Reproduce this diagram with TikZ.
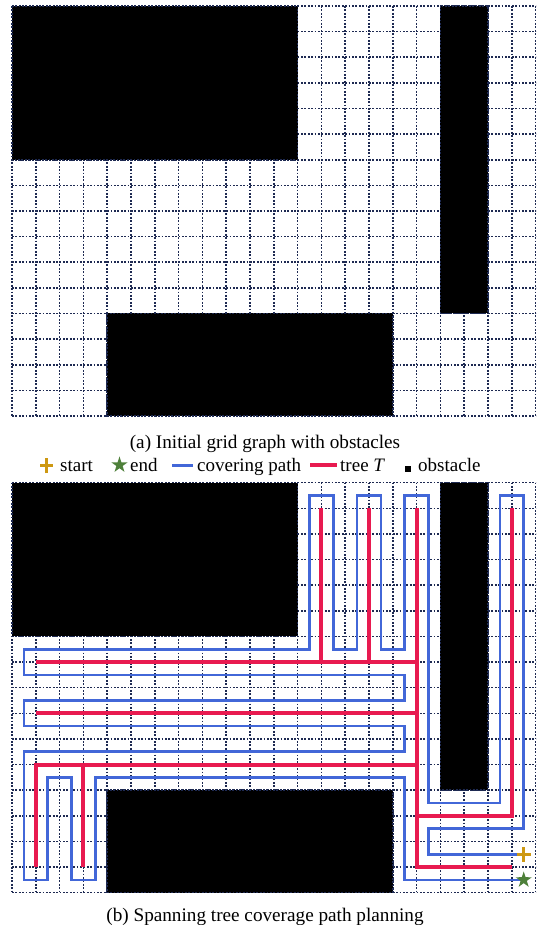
\documentclass[tikz,border=0pt]{standalone}
\usepackage{fontspec}
\setmainfont{Liberation Serif}
\usetikzlibrary{shapes.geometric}
\definecolor{gridnavy}{RGB}{30,42,82}
\definecolor{pathblue}{RGB}{66,103,216}
\definecolor{treered}{RGB}{232,26,80}
\definecolor{startgold}{RGB}{205,152,18}
\definecolor{endgreen}{RGB}{78,128,58}
\tikzset{
	gridline/.style={gridnavy, line width=1.6pt, dash pattern=on 1.8pt off 1.6pt},
	obstacle/.style={fill=black},
	covpath/.style={pathblue, line width=2.6pt, line join=miter},
	treeline/.style={treered, line width=4pt, line join=miter},
	startmark/.style={startgold, line width=3pt},
	endmark/.style={star, star points=5, star point ratio=2.6, fill=endgreen, inner sep=0pt, minimum size=17pt},
	captext/.style={font=\fontsize{19.2}{23}\selectfont, inner sep=0pt, anchor=base},
	legtext/.style={font=\fontsize{19}{23}\selectfont, inner sep=0pt, anchor=base west},
}
% dotted grid with the three obstacles, in cell units
\newcommand{\obstaclegrid}{%
	\foreach \c in {0,...,22} \draw[gridline] (\c,0) -- (\c,16);
	\foreach \r in {0,...,16} \draw[gridline] (0,\r) -- (22,\r);
	\foreach \xa/\ya/\xb/\yb in {0/0/12/6, 18/0/20/12, 4/12/16/16}{
		\fill[obstacle] (\xa,\ya) rectangle (\xb,\yb);
		\draw[gridline] (\xa,\ya) rectangle (\xb,\yb);
	}
}
\newcommand{\startplus}[3]{%
	\draw[startmark] ([xshift=-#2]#1) -- ([xshift=#2]#1) ([yshift=-#3]#1) -- ([yshift=#3]#1);
}
\begin{document}
\begin{tikzpicture}[x=1pt, y=1pt]
	\useasboundingbox (0,0) rectangle (539,925);
	% (a)
	\begin{scope}[shift={(12,919)}, x=23.8pt, y=-25.625pt]
		\obstaclegrid
	\end{scope}
	\node[captext] (capa) at (265,476.7) {(a) Initial grid graph with obstacles};
	% legend
	\coordinate (legstart) at (46.5,459);
	\startplus{legstart}{6.5pt}{7.5pt}
	\node[legtext] (startlbl) at (60,453.3) {start};
	\node[endmark] (legend) at (119.5,460) {};
	\node[legtext] (endlbl) at (130,453.3) {end};
	\draw[covpath] (172,459.7) -- (193,459.7);
	\node[legtext] (pathlbl) at (197,453.3) {covering path};
	\draw[treeline] (310,459.7) -- (337,459.7);
	\node[legtext] (treelbl) at (340,453.3) {tree \textit{T}};
	\fill (405,452.5) rectangle (411,458.5);
	\node[legtext] (obstlbl) at (418,453.3) {obstacle};
	% (b)
	\begin{scope}[shift={(12,442.3)}, x=23.8pt, y=-25.625pt]
		\obstaclegrid
		% spanning tree
		\draw[treeline] (1,7) -- (17,7);
		\draw[treeline] (1,9) -- (17,9);
		\draw[treeline] (1,15) -- (1,11) -- (17,11);
		\draw[treeline] (3,11) -- (3,15);
		\draw[treeline] (13,1) -- (13,7);
		\draw[treeline] (15,1) -- (15,7);
		\draw[treeline] (17,1) -- (17,15) -- (21,15);
		\draw[treeline] (17,13) -- (21,13) -- (21,1);
		% covering path
		\draw[covpath] (21.5,14.5) -- (17.5,14.5) -- (17.5,13.5) -- (21.5,13.5) -- (21.5,0.5)
			-- (20.5,0.5) -- (20.5,12.5) -- (17.5,12.5) -- (17.5,0.5) -- (16.5,0.5) -- (16.5,6.5)
			-- (15.5,6.5) -- (15.5,0.5) -- (14.5,0.5) -- (14.5,6.5) -- (13.5,6.5) -- (13.5,0.5)
			-- (12.5,0.5) -- (12.5,6.5) -- (0.5,6.5) -- (0.5,7.5) -- (16.5,7.5) -- (16.5,8.5)
			-- (0.5,8.5) -- (0.5,9.5) -- (16.5,9.5) -- (16.5,10.5) -- (0.5,10.5) -- (0.5,15.5)
			-- (1.5,15.5) -- (1.5,11.5) -- (2.5,11.5) -- (2.5,15.5) -- (3.5,15.5) -- (3.5,11.5)
			-- (16.5,11.5) -- (16.5,15.5) -- (21.5,15.5);
		\coordinate (start) at (21.5,14.5);
		\startplus{start}{7pt}{7.5pt}
		\node[endmark] (end) at (21.5,15.5) {};
	\end{scope}
	\node[captext] (capb) at (265,4) {(b) Spanning tree coverage path planning};
\end{tikzpicture}
\end{document}
